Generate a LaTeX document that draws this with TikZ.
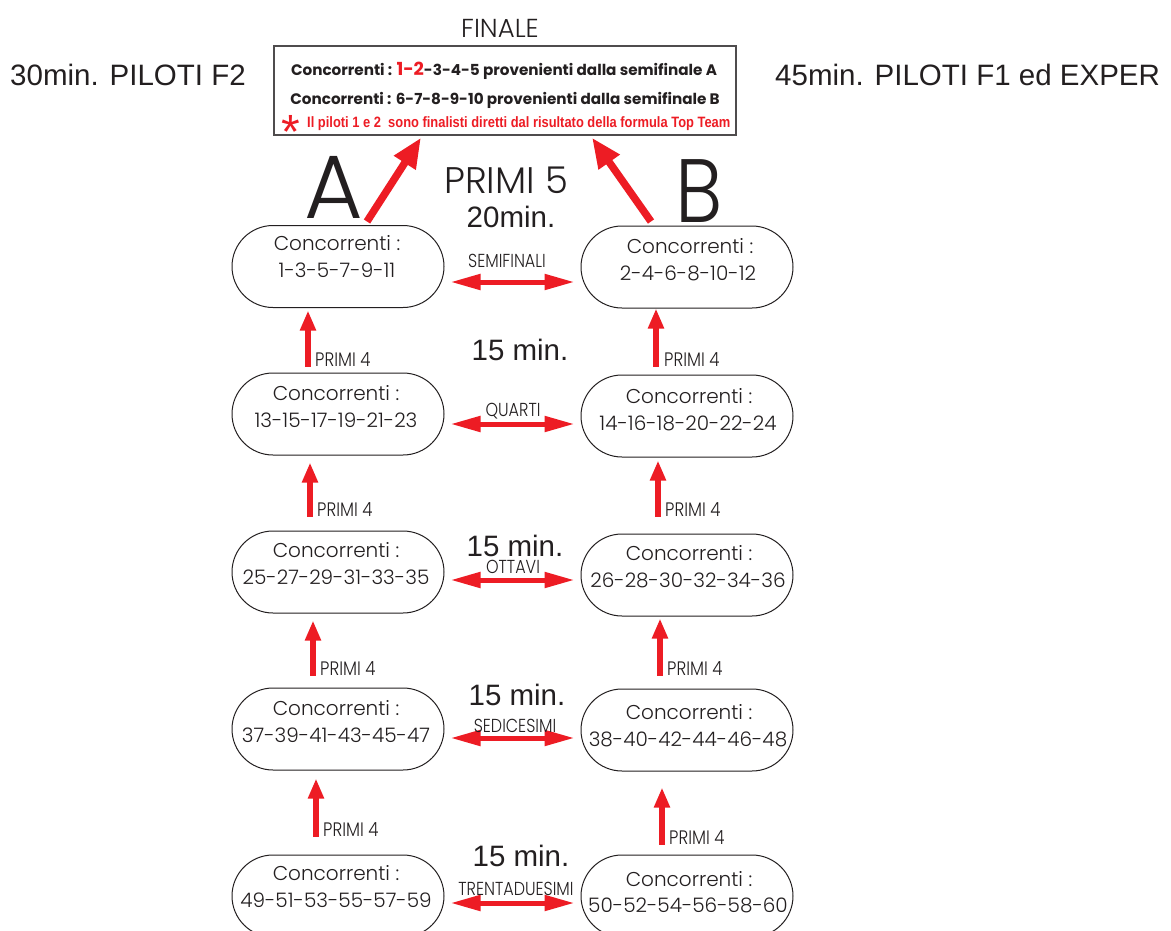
\documentclass[tikz,border=0pt]{standalone}
\usepackage{fontspec}
\setmainfont{Poppins}
\IfFontExistsTF{Poppins Light}{\newfontfamily\lightf{Poppins Light}\newfontfamily\narrowp{Poppins Light}[FakeStretch=0.85]}{\newfontfamily\lightf{Poppins}\newfontfamily\narrowp{Poppins}[FakeStretch=0.85]}
\newfontfamily\arialf{Liberation Sans}
\newfontfamily\condb{Liberation Sans}[FakeStretch=0.86]
\usetikzlibrary{arrows.meta,shapes.misc,calc}
\definecolor{rd}{RGB}{237,28,36}
\definecolor{ink}{RGB}{35,31,32}
\begin{document}
\begin{tikzpicture}[x=1pt,y=-1pt,
  pill/.style={draw=ink,line width=1pt,rounded rectangle,minimum width=212pt,minimum height=82pt,inner sep=0pt},
  ntext/.style={anchor=base,inner sep=0pt,text=ink,font=\lightf\fontsize{20}{20}\selectfont},
  bigt/.style={anchor=base,inner sep=0pt,text=ink,font=\arialf\fontsize{29.5}{30}\selectfont},
  lbl/.style={anchor=base,inner sep=0pt,text=ink,font=\narrowp\fontsize{18.8}{18.8}\selectfont},
  plbl/.style={anchor=base west,inner sep=0pt,text=ink,font=\narrowp\fontsize{19.5}{19.5}\selectfont},
  uparrow/.style={draw=rd,line width=6pt,-{Triangle[length=20pt,width=15pt]}},
  dblarrow/.style={draw=rd,line width=5pt,{Triangle[length=30pt,width=15pt]}-{Triangle[length=30pt,width=15pt]}},
  diag/.style={draw=rd,line width=7.5pt,-{Triangle[length=30pt,width=24pt]}},
  boxt/.style={anchor=base,inner sep=0pt,text=ink,font=\bfseries\fontsize{15.2}{16}\selectfont},
  letter/.style={anchor=base,inner sep=0pt,text=ink,text depth=0pt,font=\lightf\fontsize{90}{90}\selectfont},
]
\fill[white] (0,0) rectangle (1171,930);
\useasboundingbox (0,0) rectangle (1171,930);

% side labels
\node[bigt,anchor=base west] (f2) at (10,85) {30min. PILOTI F2};
\node[bigt,anchor=base west] (f1) at (775,85) {45min. PILOTI F1 ed EXPER};

% finale
\node[anchor=base,inner sep=0pt,text=ink,font=\lightf\fontsize{26}{26}\selectfont] (finlbl) at (500,37) {FINALE};
\node[draw=ink!80,line width=1.3pt,minimum width=462pt,minimum height=89pt,inner sep=0pt] (fin) at (505,90.5) {};
\node[boxt] (fl1) at (504,75) {Concorrenti : \textcolor{rd}{\fontsize{18}{18}\selectfont 1-2}-3-4-5 provenienti dalla semifinale A};
\node[boxt] (fl2) at (505,104) {Concorrenti : 6-7-8-9-10 provenienti dalla semifinale B};
\node[anchor=base west,inner sep=0pt,text=rd,font=\condb\bfseries\fontsize{15}{15}\selectfont] (fl3) at (307,127) {Il piloti 1 e 2\ \ sono finalisti diretti dal risultato della formula Top Team};
\node[anchor=base,inner sep=0pt,text=rd,text depth=0pt,font=\arialf\fontsize{48}{48}\selectfont] (star) at (291,148) {*};

% big letters and titles
\node[letter] (lA) at (334,218) {A};
\node[letter,xscale=0.88] (lB) at (699,222) {B};
\node[anchor=base,inner sep=0pt,text=ink,font=\lightf\fontsize{37}{37}\selectfont] (p5) at (506,193) {PRIMI 5};
\node[bigt] (t20) at (511,227) {20min.};
\node[bigt] (t15a) at (520,360) {15 min.};
\node[bigt] (t15b) at (515,556) {15 min.};
\node[bigt] (t15c) at (517,705) {15 min.};
\node[bigt] (t15d) at (521,866) {15 min.};

% pills
\node[pill] (L1) at (338,266.5) {};
\node[pill] (R1) at (687,267) {};
\node[pill] (L2) at (338,414) {};
\node[pill] (R2) at (687,416) {};
\node[pill] (L3) at (338,572) {};
\node[pill] (R3) at (687,575) {};
\node[pill] (L4) at (338,729) {};
\node[pill] (R4) at (687,730) {};
\node[pill] (L5) at (338,896) {};
\node[pill] (R5) at (687,896) {};

\node[ntext] (L1a) at (337,250) {Concorrenti :};
\node[ntext] (L1b) at (337,277) {1-3-5-7-9-11};
\node[ntext] (R1a) at (690,253) {Concorrenti :};
\node[ntext] (R1b) at (688,280) {2-4-6-8-10-12};
\node[ntext] (L2a) at (336,400) {Concorrenti :};
\node[ntext] (L2b) at (336,427) {13-15-17-19-21-23};
\node[ntext] (R2a) at (689,403) {Concorrenti :};
\node[ntext] (R2b) at (688,430) {14-16-18-20-22-24};
\node[ntext] (L3a) at (336,557) {Concorrenti :};
\node[ntext] (L3b) at (336,584) {25-27-29-31-33-35};
\node[ntext] (R3a) at (689,560) {Concorrenti :};
\node[ntext] (R3b) at (688,587) {26-28-30-32-34-36};
\node[ntext] (L4a) at (336,715) {Concorrenti :};
\node[ntext] (L4b) at (336,742) {37-39-41-43-45-47};
\node[ntext] (R4a) at (689,719) {Concorrenti :};
\node[ntext] (R4b) at (688,746) {38-40-42-44-46-48};
\node[ntext] (L5a) at (336,880) {Concorrenti :};
\node[ntext] (L5b) at (336,907) {49-51-53-55-57-59};
\node[ntext] (R5a) at (689,886) {Concorrenti :};
\node[ntext] (R5b) at (688,912) {50-52-54-56-58-60};

% diagonal arrows to the final
\draw[diag] ([xshift=29pt,yshift=3.5pt]L1.north) -- ([xshift=-84pt,yshift=-2pt]fin.south);
\draw[diag] ([xshift=-36pt,yshift=4pt]R1.north) -- ([xshift=87pt,yshift=-2pt]fin.south);

% vertical arrows
\draw[uparrow] ([xshift=-30pt,yshift=6pt]L2.north) coordinate (la1) -- ([xshift=-30pt,yshift=-2.5pt]L1.south);
\draw[uparrow] ([xshift=-31pt,yshift=8pt]R2.north) coordinate (ra1) -- ([xshift=-31pt,yshift=0pt]R1.south);
\draw[uparrow] ([xshift=-28pt,yshift=14pt]L3.north) coordinate (la2) -- ([xshift=-28pt,yshift=-7pt]L2.south);
\draw[uparrow] ([xshift=-29pt,yshift=17pt]R3.north) coordinate (ra2) -- ([xshift=-29pt,yshift=-3pt]R2.south);
\draw[uparrow] ([xshift=-25pt,yshift=12pt]L4.north) coordinate (la3) -- ([xshift=-25pt,yshift=-7pt]L3.south);
\draw[uparrow] ([xshift=-27pt,yshift=13pt]R4.north) coordinate (ra3) -- ([xshift=-27pt,yshift=-2pt]R3.south);
\draw[uparrow] ([xshift=-22pt,yshift=18pt]L5.north) coordinate (la4) -- ([xshift=-22pt,yshift=-8pt]L4.south);
\draw[uparrow] ([xshift=-25pt,yshift=10pt]R5.north) coordinate (ra4) -- ([xshift=-25pt,yshift=-16pt]R4.south);

\node[plbl] (pla1) at ([xshift=7pt]la1) {PRIMI 4};
\node[plbl] (pra1) at ([xshift=8pt]ra1) {PRIMI 4};
\node[plbl] (pla2) at ([xshift=7pt]la2) {PRIMI 4};
\node[plbl] (pra2) at ([xshift=7pt]ra2) {PRIMI 4};
\node[plbl] (pla3) at ([xshift=7pt]la3) {PRIMI 4};
\node[plbl] (pra3) at ([xshift=7pt]ra3) {PRIMI 4};
\node[plbl] (pla4) at ([xshift=7pt]la4) {PRIMI 4};
\node[plbl] (pra4) at ([xshift=7pt]ra4) {PRIMI 4};

% horizontal double arrows
\path (L1.east) ++(6,15.5) coordinate (d1);
\draw[dblarrow,shorten >=6pt] (d1) -- (d1 -| R1.west);
\path (L2.east) ++(6,10) coordinate (d2);
\draw[dblarrow,shorten >=6pt] (d2) -- (d2 -| R2.west);
\path (L3.east) ++(6,8) coordinate (d3);
\draw[dblarrow,shorten >=6pt] (d3) -- (d3 -| R3.west);
\path (L4.east) ++(6,9) coordinate (d4);
\draw[dblarrow,shorten >=6pt] (d4) -- (d4 -| R4.west);
\path (L5.east) ++(6,7) coordinate (d5);
\draw[dblarrow,shorten >=6pt] (d5) -- (d5 -| R5.west);

\node[lbl] (s1) at (507,267) {SEMIFINALI};
\node[lbl] (s2) at (513,416) {QUARTI};
\node[lbl] (s3) at (513,573) {OTTAVI};
\node[lbl] (s4) at (515,732) {SEDICESIMI};
\node[lbl] (s5) at (516,895) {TRENTADUESIMI};
\end{tikzpicture}
\end{document}
